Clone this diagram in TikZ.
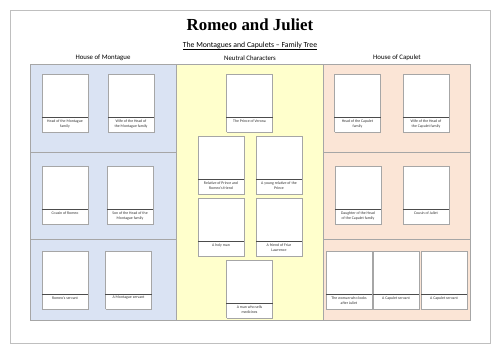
\documentclass[tikz,border=0pt]{standalone}
\usepackage{fontspec}
\setmainfont{Carlito}
\newfontfamily\titlefont{Liberation Serif}
\usetikzlibrary{positioning}
\definecolor{mtblue}{HTML}{DAE3F3}
\definecolor{ntyellow}{HTML}{FFFFCC}
\definecolor{cppeach}{HTML}{FBE5D6}
\definecolor{framegray}{HTML}{BFBFBF}
\definecolor{rulegray}{HTML}{A6A6A6}

\begin{document}
\begin{tikzpicture}[x=0.5mm, y=-0.5mm,
  photo/.style={draw=gray!70, densely dotted, fill=white, minimum width=23mm,
                minimum height=21.5mm, anchor=north, inner sep=0pt},
  capt/.style={draw=gray!70, densely dotted, fill=white, minimum width=23mm,
               inner xsep=0.5mm, inner ysep=1mm, text=black!80,
               font=\fontsize{5.5}{7}\selectfont, below=0pt of #1,
               execute at begin node={\begin{minipage}[t][5.5mm][t]{22mm}\centering},
               execute at end node={\end{minipage}},
               append after command={(\tikzlastnode.north west) edge[solid, gray!60!black] (\tikzlastnode.north east)}},
  house/.style={font=\fontsize{9.7}{11}\selectfont}
]
\useasboundingbox (0,0) rectangle (500,354);
\fill[white] (0,0) rectangle (500,354);
\draw[framegray, line width=0.8pt] (10,10) rectangle (490,343);

\node (title) at (250,25) {\titlefont\bfseries\fontsize{24}{28}\selectfont Romeo and Juliet};
\node (sub)   at (250,46) {\fontsize{11}{13}\selectfont\underline{The Montagues and Capulets -- Family Tree}};

% the three panels
\fill[mtblue]   (30,64)  rectangle (176,320);
\fill[ntyellow] (176,64) rectangle (323,320);
\fill[cppeach]  (323,64) rectangle (470,320);
\draw[rulegray] (30,64) rectangle (470,320);
\draw[rulegray] (176,64) -- (176,320);
\draw[rulegray] (323,64) -- (323,320);
\draw[rulegray] (30,152)  -- (176,152);
\draw[rulegray] (30,239)  -- (176,239);
\draw[rulegray] (323,152) -- (470,152);
\draw[rulegray] (323,239) -- (470,239);

\node[house] (hmont) at (103,58) {House of Montague};
\node[house] (hneut) at (250,58) {Neutral Characters};
\node[house] (hcap)  at (397,58) {House of Capulet};

% House of Montague
\node[photo] (m1) at (65,74)  {};
\node[capt=m1] (m1c) {Head of the Montague\\family};
\node[photo] (m2) at (131,74) {};
\node[capt=m2] (m2c) {Wife of the Head of\\the Montague family};
\node[photo] (m3) at (65,166) {};
\node[capt=m3] (m3c) {Cousin of Romeo};
\node[photo] (m4) at (130,166) {};
\node[capt=m4] (m4c) {Son of the Head of the\\Montague family};
\node[photo] (m5) at (65,251) {};
\node[capt=m5] (m5c) {Romeo's servant};
\node[photo] (m6) at (128.5,251) {};
\node[capt=m6] (m6c) {A Montague servant};

% Neutral characters
\node[photo] (n1) at (249.5,74) {};
\node[capt=n1] (n1c) {The Prince of Verona};
\node[photo] (n2) at (221,136) {};
\node[capt=n2] (n2c) {Relative of Prince and\\Romeo's friend};
\node[photo] (n3) at (279,136) {};
\node[capt=n3] (n3c) {A young relative of the\\Prince};
\node[photo] (n4) at (221,198) {};
\node[capt=n4] (n4c) {A holy man};
\node[photo] (n5) at (279,198) {};
\node[capt=n5] (n5c) {A friend of Friar\\Lawrence};
\node[photo] (n6) at (249.5,260) {};
\node[capt=n6] (n6c) {A man who sells\\medicines};

% House of Capulet
\node[photo] (c1) at (357.5,74) {};
\node[capt=c1] (c1c) {Head of the Capulet\\family};
\node[photo] (c2) at (426,74) {};
\node[capt=c2] (c2c) {Wife of the Head of\\the Capulet family};
\node[photo] (c3) at (358,166) {};
\node[capt=c3] (c3c) {Daughter of the Head\\of the Capulet family};
\node[photo] (c4) at (426,166) {};
\node[capt=c4] (c4c) {Cousin of Juliet};
\node[photo] (c5) at (349,251) {};
\node[capt=c5] (c5c) {The woman who looks\\after Juliet};
\node[photo] (c6) at (396,251) {};
\node[capt=c6] (c6c) {A Capulet servant};
\node[photo] (c7) at (444,251) {};
\node[capt=c7] (c7c) {A Capulet servant};
\end{tikzpicture}
\end{document}
